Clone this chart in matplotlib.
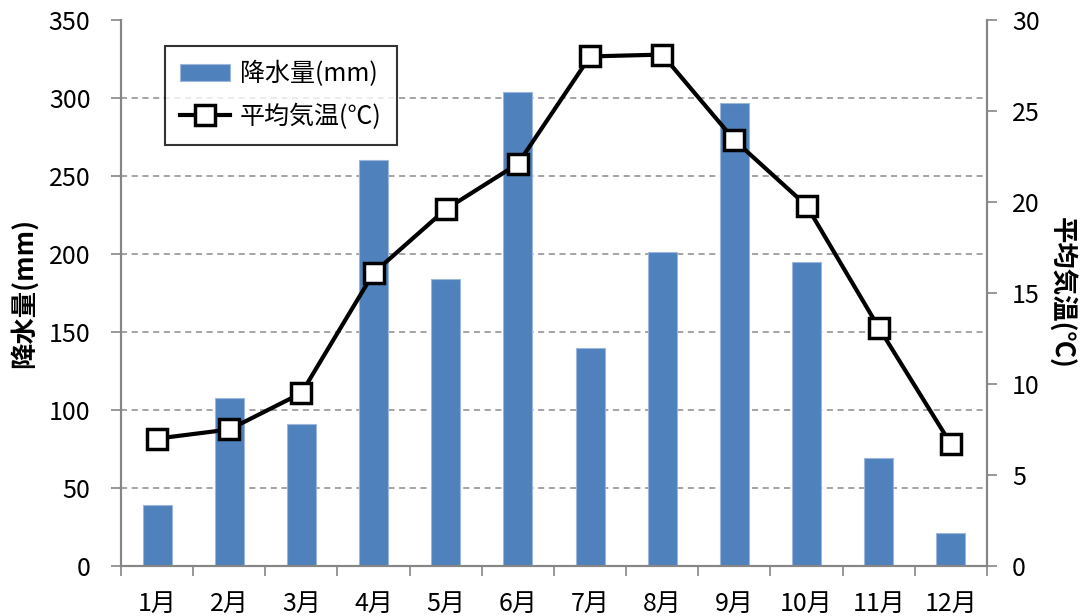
import numpy as np
import matplotlib.pyplot as plt

plt.rcParams['font.family'] = ['Noto Sans CJK JP', 'DejaVu Sans']

months = ['1月', '2月', '3月', '4月', '5月', '6月',
          '7月', '8月', '9月', '10月', '11月', '12月']
precip = [39, 108, 91, 260, 184, 304, 140, 201, 297, 195, 69, 21]
temp = [7.0, 7.5, 9.5, 16.1, 19.6, 22.1, 28.0, 28.1, 23.4, 19.8, 13.1, 6.7]

x = np.arange(len(months))
axis_grey = '#868686'

fig = plt.figure(figsize=(10.87, 6.16), dpi=100)
ax = fig.add_axes([0.1113, 0.0812, 0.7967, 0.8863])
ax2 = ax.twinx()

bars = ax.bar(x, precip, width=0.4, color='#4F81BD', edgecolor='#9DB7DB',
              linewidth=0.8, label='降水量(mm)', zorder=2)
line, = ax2.plot(x, temp, color='black', lw=3, marker='s', markersize=15,
                 markerfacecolor='white', markeredgecolor='black',
                 markeredgewidth=2.5, label='平均気温(℃)', zorder=3)

ax.set_xlim(-0.5, len(months) - 0.5)
ax.set_ylim(0, 350)
ax.set_yticks(np.arange(0, 351, 50))
ax2.set_ylim(0, 30)
ax2.set_yticks(np.arange(0, 31, 5))

# dashed gridlines for the precipitation scale
for v in range(50, 350, 50):
    ax.axhline(v, color='#8c8c8c', ls=(0, (4, 3)), lw=1.1, zorder=1)

# category ticks sit between the months
ax.set_xticks(x)
ax.set_xticklabels(months, fontsize=18)
ax.set_xticks(np.arange(-0.5, len(months), 1), minor=True)
ax.tick_params(axis='x', which='major', length=0, pad=18)
ax.tick_params(axis='x', which='minor', length=7, color=axis_grey, width=1.2)
ax.tick_params(axis='y', length=7, color=axis_grey, width=1.2, labelsize=18, pad=15)
ax2.tick_params(axis='y', length=7, color=axis_grey, width=1.2, labelsize=18, pad=11)

for a in (ax, ax2):
    a.spines['top'].set_visible(False)
    for s in ('left', 'right', 'bottom'):
        a.spines[s].set_color(axis_grey)
        a.spines[s].set_linewidth(1.5)

ax.set_ylabel('降水量(mm)', fontsize=19, fontweight='bold', labelpad=8)
ax2.set_ylabel('平均気温(℃)', fontsize=19, fontweight='bold', rotation=270,
               labelpad=26)

ax2.set_zorder(ax.get_zorder() + 1)
ax2.patch.set_visible(False)

leg = ax2.legend([bars, line], ['降水量(mm)', '平均気温(℃)'],
                 loc='upper left', bbox_to_anchor=(0.051, 0.952),
                 fontsize=18, frameon=True, fancybox=False, edgecolor='black',
                 handlelength=2.0, handletextpad=0.4, borderpad=0.6,
                 labelspacing=0.65, borderaxespad=0)
leg.get_frame().set_linewidth(1.5)

fig.savefig('out.png', dpi=100)
